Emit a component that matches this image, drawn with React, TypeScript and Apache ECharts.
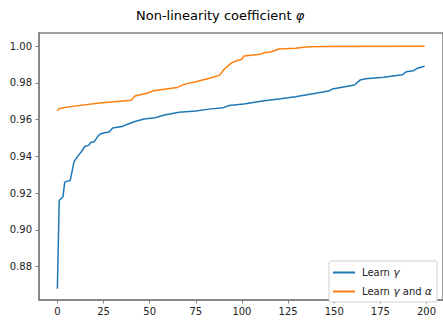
import React, { useEffect, useRef } from "react";
import * as echarts from "echarts";

const titleText = "Non-linearity coefficient ";
const xTicks = [0, 25, 50, 75, 100, 125, 150, 175, 200];
const yTicks = [0.88, 0.9, 0.92, 0.94, 0.96, 0.98, 1.0];

const gammaX = [0, 1, 3, 4, 7, 9, 11, 13, 15, 17, 18, 20, 22, 23, 25, 28, 30, 35, 38, 42, 47, 53, 58, 66, 75, 82, 90, 93, 101, 112, 121, 129, 136, 140, 147, 149, 161, 164, 167, 177, 187, 189, 193, 195, 199];
const gammaY = [0.868, 0.916, 0.918, 0.926, 0.927, 0.937, 0.94, 0.9425, 0.9455, 0.946, 0.9475, 0.948, 0.951, 0.952, 0.9527, 0.9532, 0.9555, 0.9562, 0.9575, 0.959, 0.9603, 0.961, 0.9625, 0.964, 0.9647, 0.9657, 0.9665, 0.9677, 0.9685, 0.9703, 0.9713, 0.9724, 0.9737, 0.9743, 0.9755, 0.9766, 0.9788, 0.9815, 0.9822, 0.9831, 0.9844, 0.986, 0.9866, 0.9879, 0.989];

const gammaAlphaX = [0, 1, 8, 23, 40, 42, 49, 52, 65, 69, 75, 82, 88, 90, 94, 97, 100, 101, 110, 112, 116, 120, 129, 136, 145, 199];
const gammaAlphaY = [0.9648, 0.966, 0.9672, 0.969, 0.9705, 0.9728, 0.9745, 0.9757, 0.9775, 0.9793, 0.9806, 0.9824, 0.9842, 0.987, 0.9906, 0.992, 0.9928, 0.9946, 0.9955, 0.9964, 0.9969, 0.9984, 0.9988, 0.9996, 0.9998, 0.9999];

const seriesNames = ["Learn γ", "Learn γ and α"];

const FONT = "DejaVu Sans";
const SPINE = "#808080";

export default function App() {
  const ref = useRef<HTMLDivElement>(null);
  useEffect(() => {
    if (!ref.current) return;
    const chart = echarts.init(ref.current, null, { renderer: "svg" });
    const pairs = (xs: number[], ys: number[]) => xs.map((x, i) => [x, ys[i]]);
    chart.setOption({
      animation: false,
      backgroundColor: "#ffffff",
      graphic: [
        {
          type: "text",
          left: 136,
          top: 9,
          style: {
            text: titleText + "{i|φ}",
            font: `13px '${FONT}'`,
            fill: "#000",
            rich: { i: { fontStyle: "italic", fontFamily: FONT, fontSize: 13, fill: "#000" } },
          },
        },
      ],
      grid: { left: 39, top: 33, width: 407, height: 267, show: true, borderColor: SPINE, borderWidth: 1.5 },
      xAxis: {
        type: "value",
        min: -9.95,
        max: 208.95,
        splitLine: { show: false },
        axisLine: { show: true, onZero: false, lineStyle: { color: SPINE, width: 1.5 } },
        axisTick: { show: true, length: 3.5, customValues: xTicks, lineStyle: { color: SPINE, width: 1 } },
        axisLabel: { customValues: xTicks, color: "#222", fontFamily: FONT, fontSize: 10, margin: 6 },
      },
      yAxis: {
        type: "value",
        min: 0.8619,
        max: 1.0071,
        splitLine: { show: false },
        axisLine: { show: true, onZero: false, lineStyle: { color: SPINE, width: 1.5 } },
        axisTick: { show: true, length: 3.5, customValues: yTicks, lineStyle: { color: SPINE, width: 1 } },
        axisLabel: {
          customValues: yTicks,
          color: "#222",
          fontFamily: FONT,
          fontSize: 10,
          margin: 7,
          formatter: (v: number) => v.toFixed(2),
        },
      },
      legend: {
        orient: "vertical",
        left: 329,
        top: 261,
        padding: [6, 5, 5, 4],
        itemGap: 8,
        itemWidth: 22,
        itemHeight: 2,
        icon: "rect",
        borderColor: "#d0d0d0",
        borderWidth: 1,
        borderRadius: 2,
        backgroundColor: "#fff",
        data: seriesNames,
        formatter: (name: string) =>
          name === seriesNames[0] ? "Learn {i|γ}" : "Learn {i|γ} and {i|α}",
        textStyle: {
          fontFamily: FONT,
          fontSize: 10,
          color: "#222",
          padding: [0, 0, 0, 2],
          rich: { i: { fontStyle: "italic", fontFamily: FONT, fontSize: 11, color: "#222" } },
        },
      },
      series: [
        {
          name: seriesNames[0],
          type: "line",
          data: pairs(gammaX, gammaY),
          symbol: "none",
          lineStyle: { color: "#1f77b4", width: 1.5 },
          itemStyle: { color: "#1f77b4" },
        },
        {
          name: seriesNames[1],
          type: "line",
          data: pairs(gammaAlphaX, gammaAlphaY),
          symbol: "none",
          lineStyle: { color: "#ff7f0e", width: 1.5 },
          itemStyle: { color: "#ff7f0e" },
        },
      ],
    });
    return () => chart.dispose();
  }, []);
  return <div ref={ref} style={{ position: "fixed", left: 0, top: 0, width: 443, height: 320 }} />;
}
